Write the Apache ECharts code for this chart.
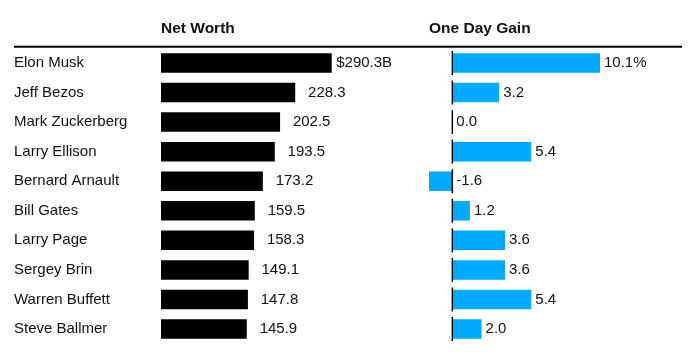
<!DOCTYPE html>
<html>
<head>
<meta charset="utf-8">
<script src="https://cdn.jsdelivr.net/npm/echarts@6/dist/echarts.min.js"></script>
<style>html,body{margin:0;padding:0;background:#fff}#c{width:697px;height:360px}</style>
</head>
<body>
<div id="c"></div>
<script>
const names = ['Elon Musk','Jeff Bezos','Mark Zuckerberg','Larry Ellison','Bernard Arnault','Bill Gates','Larry Page','Sergey Brin','Warren Buffett','Steve Ballmer'];
const netWorth = [290.3, 228.3, 202.5, 193.5, 173.2, 159.5, 158.3, 149.1, 147.8, 145.9];
const gain = [10.1, 3.2, 0.0, 5.4, -1.6, 1.2, 3.6, 3.6, 5.4, 2.0];
const headers = ['Net Worth', 'One Day Gain'];

const FONT = 'Liberation Sans';
const TXT = '#111';
const chart = echarts.init(document.getElementById('c'));
const gridTop = 48.2, gridH = 295.6;
chart.setOption({
  animation: false,
  textStyle: {fontFamily: FONT},
  graphic: [
    {type:'text', left:161, top:21, style:{text:headers[0], font:'bold 15.5px "Liberation Sans"', fill:TXT}},
    {type:'text', left:429, top:21, style:{text:headers[1], font:'bold 15.5px "Liberation Sans"', fill:TXT}},
    {type:'line', shape:{x1:14, y1:46.7, x2:682, y2:46.7}, style:{stroke:'#000', lineWidth:2}}
  ],
  grid: [
    {left:161, top:gridTop, width:176.4, height:gridH},
    {left:423.1, top:gridTop, width:204.7, height:gridH}
  ],
  xAxis: [
    {gridIndex:0, type:'value', min:0, max:300, show:false},
    {gridIndex:1, type:'value', min:-2, max:12, show:false}
  ],
  yAxis: [
    {gridIndex:0, type:'category', data:names, inverse:true,
     axisLine:{show:false}, axisTick:{show:false}, splitLine:{show:false},
     axisLabel:{align:'left', margin:147, fontSize:15, color:TXT, fontFamily:FONT, padding:[0,0,2,0]}},
    {gridIndex:1, type:'category', data:names, inverse:true, show:false}
  ],
  series: [
    {type:'bar', xAxisIndex:0, yAxisIndex:0, data:netWorth, barWidth:19.5, silent:true,
     itemStyle:{color:'#000'},
     label:{show:true, position:'right', distance:4.5, fontSize:15, color:TXT, fontFamily:FONT,
       formatter:p => p.dataIndex === 0 ? '$' + p.value.toFixed(1) + 'B' : '{h|$}' + p.value.toFixed(1),
       rich:{h:{color:'rgba(0,0,0,0)', fontSize:15, fontFamily:FONT}}}},
    {type:'bar', xAxisIndex:1, yAxisIndex:1, data:gain, barWidth:19.5, silent:true,
     itemStyle:{color:'#00abff'}},
    {type:'scatter', xAxisIndex:1, yAxisIndex:1, data:gain.map(() => 0), symbol:'rect',
     symbolSize:[1.5, 24], itemStyle:{color:'#000', opacity:1}, silent:true, z:5},
    {type:'scatter', xAxisIndex:1, yAxisIndex:1, data:gain.map(v => Math.max(v, 0)),
     symbolSize:1, itemStyle:{color:'#fff', opacity:0}, silent:true, z:6,
     label:{show:true, position:'right', distance:3.5, fontSize:15, color:TXT, opacity:1, fontFamily:FONT,
       formatter:p => gain[p.dataIndex].toFixed(1) + (p.dataIndex === 0 ? '%' : '')}}
  ]
});
</script>
</body>
</html>
